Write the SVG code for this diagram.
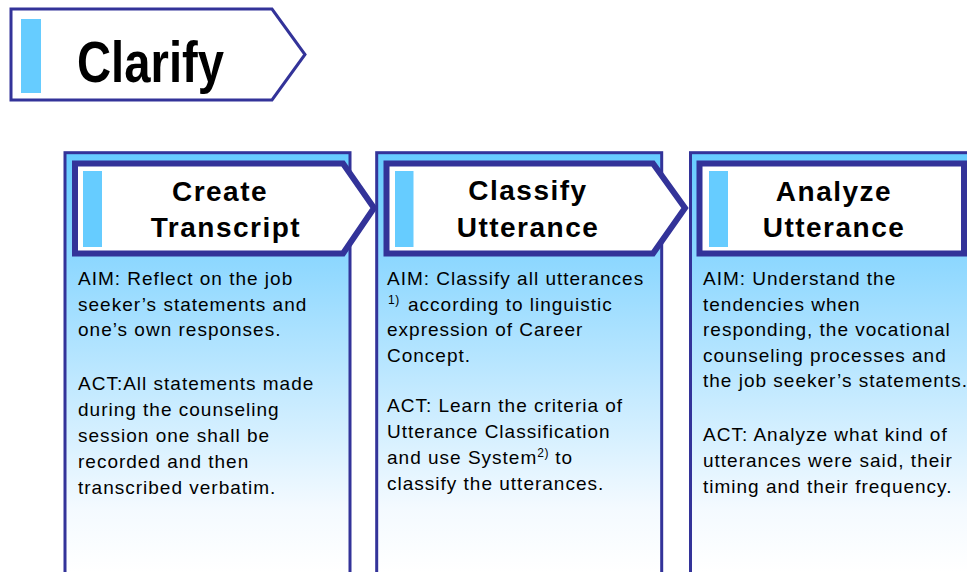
<svg xmlns="http://www.w3.org/2000/svg" width="967" height="572" viewBox="0 0 967 572">
  <defs>
    <linearGradient id="colfill" gradientUnits="userSpaceOnUse" x1="0" y1="152" x2="0" y2="572">
      <stop offset="0" stop-color="#66CCFF"/>
      <stop offset="0.25" stop-color="#8CD7FF"/>
      <stop offset="0.85" stop-color="#F4FAFF"/>
      <stop offset="1" stop-color="#FFFFFF"/>
    </linearGradient>
    <style>
      .col { fill: url(#colfill); stroke: #333399; stroke-width: 3; }
      .hdr { fill: #FFFFFF; stroke: #333399; stroke-width: 6; stroke-linejoin: miter; }
      .bar { fill: #66CCFF; }
      .title { font-family: "Liberation Sans", Arial, sans-serif; font-weight: bold; font-size: 28px; letter-spacing: 1.5px; fill: #000; text-anchor: middle; }
      .body { font-family: "Liberation Sans", Arial, sans-serif; font-size: 19px; letter-spacing: 1px; fill: #000; }
      .sup { font-size: 12px; letter-spacing: 0.5px; }
    </style>
  </defs>

  <g id="clarify">
    <polygon points="11,9 272,9 305,54.5 272,100 11,100" fill="#FFFFFF" stroke="#333399" stroke-width="3"/>
    <rect class="bar" x="21" y="19" width="20" height="74"/>
    <text x="77" y="82" font-family="Liberation Sans, Arial, sans-serif" font-weight="bold" font-size="57" textLength="147" lengthAdjust="spacingAndGlyphs" fill="#000">Clarify</text>
  </g>

  <g id="create-transcript">
    <rect class="col" x="65" y="152.7" width="285" height="440"/>
    <polygon class="hdr" points="75,163.5 343,163.5 374,208 343,253.5 75,253.5"/>
    <rect class="bar" x="83" y="171" width="19" height="76"/>
    <text class="title" x="220" y="201">Create</text>
    <text class="title" x="226" y="237">Transcript</text>
    <text class="body" x="78">
      <tspan x="78" y="285">AIM: Reflect on the job</tspan>
      <tspan x="78" y="310.5">seeker’s statements and</tspan>
      <tspan x="78" y="336">one’s own responses.</tspan>
      <tspan x="78" y="390">ACT:All statements made</tspan>
      <tspan x="78" y="416">during the counseling</tspan>
      <tspan x="78" y="442">session one shall be</tspan>
      <tspan x="78" y="468">recorded and then</tspan>
      <tspan x="78" y="494">transcribed verbatim.</tspan>
    </text>
  </g>

  <g id="classify-utterance">
    <rect class="col" x="376.7" y="152.7" width="285" height="440"/>
    <polygon class="hdr" points="386.5,163.5 653,163.5 685,208 653,253.5 386.5,253.5"/>
    <rect class="bar" x="395" y="171" width="18.5" height="76"/>
    <text class="title" x="528" y="200">Classify</text>
    <text class="title" x="528" y="237">Utterance</text>
    <text class="body">
      <tspan x="387" y="285">AIM: Classify all utterances</tspan>
      <tspan x="388" y="304" class="sup">1)</tspan>
      <tspan x="408" y="310.5">according to linguistic</tspan>
      <tspan x="387" y="336">expression of Career</tspan>
      <tspan x="387" y="361.5">Concept.</tspan>
      <tspan x="387" y="412">ACT: Learn the criteria of</tspan>
      <tspan x="387" y="438">Utterance Classification</tspan>
      <tspan x="387" y="464">and use System</tspan><tspan class="sup" dy="-7">2)</tspan><tspan dy="7"> to</tspan>
      <tspan x="387" y="490">classify the utterances.</tspan>
    </text>
  </g>

  <g id="analyze-utterance">
    <rect class="col" x="690.5" y="152.7" width="285" height="440"/>
    <polygon class="hdr" points="699.5,163.5 964,163.5 964,253.5 699.5,253.5"/>
    <rect class="bar" x="709" y="171" width="19" height="76"/>
    <text class="title" x="834" y="201">Analyze</text>
    <text class="title" x="834" y="237">Utterance</text>
    <text class="body">
      <tspan x="703" y="285">AIM: Understand the</tspan>
      <tspan x="703" y="310.5">tendencies when</tspan>
      <tspan x="703" y="336">responding, the vocational</tspan>
      <tspan x="703" y="361.5">counseling processes and</tspan>
      <tspan x="703" y="387">the job seeker’s statements.</tspan>
      <tspan x="703" y="441">ACT: Analyze what kind of</tspan>
      <tspan x="703" y="467">utterances were said, their</tspan>
      <tspan x="703" y="493">timing and their frequency.</tspan>
    </text>
  </g>

  <g id="connectors"/>
</svg>
